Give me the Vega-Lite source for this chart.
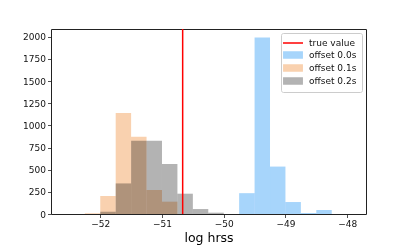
{
  "$schema": "https://vega.github.io/schema/vega-lite/v6.json",
  "width": 315,
  "height": 185,
  "autosize": {"type": "none"},
  "padding": {"left": 51, "top": 29, "right": 41, "bottom": 31},
  "background": "white",
  "config": {
    "font": "DejaVu Sans",
    "view": {"stroke": "#222222", "strokeWidth": 1},
    "axis": {"domain": false, "grid": false, "tickColor": "#222222", "tickSize": 3.5, "tickWidth": 0.8, "labelFontSize": 9, "labelColor": "#111111", "labelPadding": 2},
    "legend": {
      "title": null, "orient": "top-right", "offset": 4,
      "labelFontSize": 9, "labelColor": "#111111", "labelOffset": 11,
      "symbolSize": 64, "symbolOffset": 2, "symbolOpacity": 1, "symbolStrokeWidth": 1.5, "rowPadding": 1,
      "padding": 5, "fillColor": "white", "strokeColor": "#cccccc", "cornerRadius": 2
    }
  },
  "layer": [
    {
      "data": {"values": [
        {"series": "offset 0.0s", "x0": -49.75, "x1": -49.5, "count": 235},
        {"series": "offset 0.0s", "x0": -49.5, "x1": -49.25, "count": 1990},
        {"series": "offset 0.0s", "x0": -49.25, "x1": -49.0, "count": 535},
        {"series": "offset 0.0s", "x0": -49.0, "x1": -48.75, "count": 135},
        {"series": "offset 0.0s", "x0": -48.75, "x1": -48.5, "count": 12},
        {"series": "offset 0.0s", "x0": -48.5, "x1": -48.25, "count": 45},
        {"series": "offset 0.1s", "x0": -52.25, "x1": -52.0, "count": 8},
        {"series": "offset 0.1s", "x0": -52.0, "x1": -51.75, "count": 203},
        {"series": "offset 0.1s", "x0": -51.75, "x1": -51.5, "count": 1140},
        {"series": "offset 0.1s", "x0": -51.5, "x1": -51.25, "count": 872},
        {"series": "offset 0.1s", "x0": -51.25, "x1": -51.0, "count": 271},
        {"series": "offset 0.1s", "x0": -51.0, "x1": -50.75, "count": 139},
        {"series": "offset 0.2s", "x0": -52.0, "x1": -51.75, "count": 25},
        {"series": "offset 0.2s", "x0": -51.75, "x1": -51.5, "count": 345},
        {"series": "offset 0.2s", "x0": -51.5, "x1": -51.25, "count": 825},
        {"series": "offset 0.2s", "x0": -51.25, "x1": -51.0, "count": 827},
        {"series": "offset 0.2s", "x0": -51.0, "x1": -50.75, "count": 564},
        {"series": "offset 0.2s", "x0": -50.75, "x1": -50.5, "count": 229},
        {"series": "offset 0.2s", "x0": -50.5, "x1": -50.25, "count": 56},
        {"series": "offset 0.2s", "x0": -50.25, "x1": -50.0, "count": 15}
      ]},
      "mark": {"type": "bar", "orient": "vertical", "clip": true, "blend": "multiply"},
      "encoding": {
        "x": {"field": "x0", "type": "quantitative",
              "scale": {"domain": [-52.717, -47.776], "nice": false, "zero": false},
              "axis": {"values": [-52, -51, -50, -49, -48], "labelExpr": "replace(format(datum.value, 'd'), '-', '−')",
                       "title": "log hrss", "titleFontSize": 12.5, "titleFontWeight": "normal", "titleColor": "#000000", "titlePadding": 3}},
        "x2": {"field": "x1"},
        "y": {"field": "count", "type": "quantitative",
              "scale": {"domain": [0, 2087], "nice": false},
              "axis": {"values": [0, 250, 500, 750, 1000, 1250, 1500, 1750, 2000], "format": "d", "title": null}},
        "y2": {"datum": 0},
        "color": {"field": "series", "type": "nominal",
                  "scale": {"domain": ["true value", "offset 0.0s", "offset 0.1s", "offset 0.2s"],
                            "range": ["#ff0000", "#a7d5fb", "#f9d1af", "#b3b3b3"]}}
      }
    },
    {
      "data": {"values": [{"series": "true value", "truth": -50.665}]},
      "mark": {"type": "rule", "strokeWidth": 1.5},
      "encoding": {
        "x": {"field": "truth", "type": "quantitative"},
        "color": {"field": "series", "type": "nominal"}
      }
    },
    {
      "data": {"values": [{"series": "true value", "truth": -50.665}]},
      "mark": {"type": "point", "opacity": 0, "filled": true},
      "encoding": {
        "x": {"field": "truth", "type": "quantitative"},
        "color": {"field": "series", "type": "nominal"},
        "shape": {"field": "series", "type": "nominal",
                  "scale": {"domain": ["true value", "offset 0.0s", "offset 0.1s", "offset 0.2s"],
                            "range": ["M-2.5,0H2.5", "M-2.3,-0.75H2.3V0.75H-2.3Z", "M-2.3,-0.75H2.3V0.75H-2.3Z", "M-2.3,-0.75H2.3V0.75H-2.3Z"]}}
      }
    }
  ]
}
